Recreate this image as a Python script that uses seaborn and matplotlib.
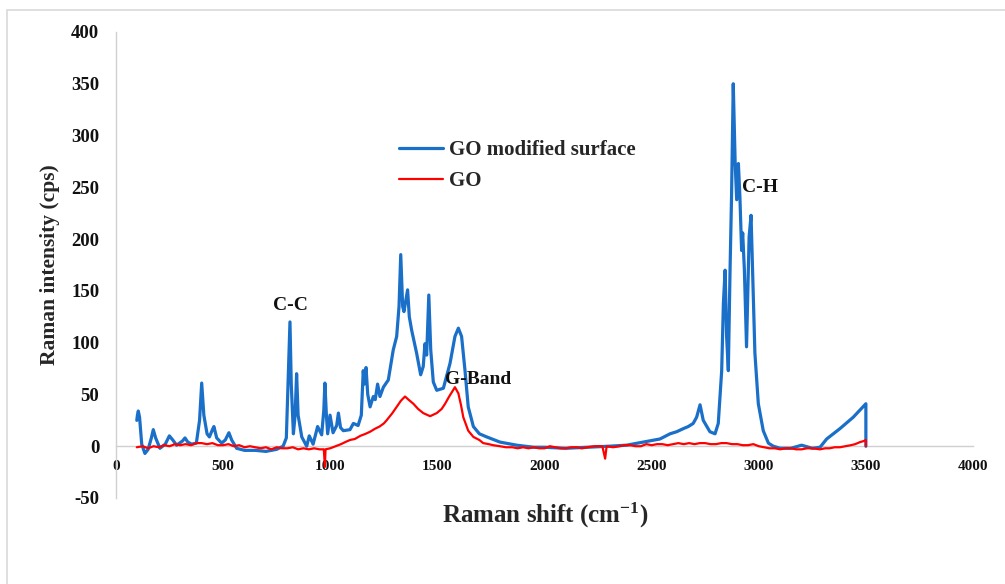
import matplotlib
matplotlib.use("Agg")
import matplotlib.pyplot as plt
import matplotlib.patches as mpatches
import seaborn as sns
import pandas as pd

# ---- data ----
go_mod_x = [97, 100, 104, 110, 120, 135, 150, 165, 174, 185, 205, 230, 249, 265, 283, 310, 322, 335, 353, 375,
            390, 400, 410, 425, 436, 450, 457, 470, 493, 510, 527, 540, 563, 600, 650, 700, 750, 780, 795, 803,
            812, 818, 828, 836, 843, 850, 867, 890, 902, 920, 941, 960, 970, 975, 982, 988, 999, 1013, 1030, 1038,
            1048, 1061, 1092, 1108, 1130, 1145, 1154, 1159, 1167, 1175, 1186, 1201, 1210, 1221, 1232, 1248, 1271,
            1294, 1310, 1321, 1329, 1338, 1344, 1361, 1369, 1380, 1403, 1422, 1434, 1442, 1450, 1460, 1469, 1481,
            1497, 1528, 1559, 1582, 1598, 1613, 1629, 1644, 1668, 1696, 1730, 1792, 1870, 1950, 2000, 2100, 2200,
            2300, 2383, 2461, 2539, 2586, 2617, 2648, 2671, 2694, 2710, 2726, 2741, 2772, 2796, 2811, 2827, 2835,
            2843, 2850, 2858, 2866, 2873, 2881, 2890, 2897, 2905, 2912, 2920, 2925, 2933, 2943, 2955, 2964, 2971,
            2982, 2998, 3021, 3045, 3068, 3100, 3150, 3200, 3250, 3286, 3317, 3379, 3441, 3500, 3500]
go_mod_y = [25, 30, 34, 28, 2, -7, -3, 8, 16, 8, -2, 2, 10, 6, 1, 5, 8, 4, 2, 3,
            25, 61, 30, 12, 9, 16, 19, 8, 3, 6, 13, 6, -2, -4, -4, -5, -3, 0, 8, 60,
            120, 60, 12, 30, 70, 30, 9, 0, 10, 2, 19, 11, 35, 61, 30, 12, 30, 13, 20, 32,
            18, 15, 16, 22, 20, 30, 73, 60, 76, 50, 38, 48, 45, 60, 48, 57, 64,
            93, 106, 135, 185, 135, 130, 151, 125, 112, 90, 69, 77, 99, 88, 146, 93, 62,
            54, 56, 80, 106, 114, 106, 73, 38, 19, 12, 9, 4, 1, -1, -1, -2, -1,
            0, 1, 4, 7, 12, 14, 17, 19, 22, 28, 40, 25, 14, 12, 22, 73, 138,
            170, 106, 73, 170, 241, 350, 273, 238, 273, 241, 189, 206, 170, 96, 202, 223, 170,
            90, 41, 15, 3, 0, -2, -2, 1, -2, -1, 7, 17, 28, 41, 0]

go_x = [97, 125, 150, 175, 200, 225, 250, 275, 300, 325, 350, 375, 400, 425, 450, 475, 500, 525, 550, 575,
        600, 625, 650, 675, 700, 725, 750, 775, 800, 825, 850, 875, 900, 925, 950, 970, 975,
        978, 1000, 1025, 1050, 1070, 1092, 1115, 1140, 1165, 1186, 1210, 1230, 1250, 1263, 1290, 1310, 1330,
        1349, 1365, 1388, 1410, 1434, 1466,
        1497, 1520, 1536, 1555, 1567, 1582, 1598, 1610, 1621, 1644, 1668, 1696, 1714, 1740, 1760, 1792, 1820,
        1850, 1875, 1900, 1925,
        1950, 1975, 2000, 2025, 2050, 2075, 2100, 2125, 2150, 2175, 2200, 2235, 2270, 2283, 2290, 2320, 2350,
        2375, 2400, 2425, 2450, 2475, 2500, 2525, 2550, 2575, 2600, 2625, 2650, 2675, 2700,
        2725, 2750, 2775, 2800, 2825, 2850, 2875, 2900, 2925, 2950, 2975, 3000, 3025, 3050, 3075, 3100, 3125,
        3150, 3175, 3200, 3225, 3250, 3286, 3310, 3330, 3355, 3379, 3405, 3430, 3450, 3473, 3490, 3500, 3500]
go_y = [-1, 0, -2, 0, -1, 1, 0, 2, 1, 2, 1, 3, 3, 2, 3, 1, 1, 2, 0, 1,
        -1, 0, -1, -2, -1, -3, -1, -2, -2, -1, -3, -2, -3, -2, -3, -3, -20,
        -3, -2, 0, 2, 4, 6, 7, 10, 12, 14, 17, 19, 22, 25, 32, 38, 44,
        48, 45, 41, 36, 32, 29,
        32, 36, 41, 48, 52, 57, 51, 40, 28, 15, 9, 6, 3, 2, 1, 0, -1,
        -1, -2, -1, -2,
        -1, -2, -2, 0, -1, -2, -2, -1, -1, -2, -1, 0, 0, -12, 0, -1, 0,
        1, 1, 0, 0, 2, 1, 2, 2, 1, 2, 3, 2, 3, 2,
        3, 3, 2, 2, 3, 3, 2, 2, 1, 1, 2, 0, -1, -2, -2, -3, -2,
        -2, -3, -3, -2, -2, -3, -2, -2, -1, -1, 0, 1, 2, 4, 5, 6, 0]

series_names = ["GO modified surface", "GO"]
series_colors = ["#1a6fc9", "#ff0000"]
x_ticks = [0, 500, 1000, 1500, 2000, 2500, 3000, 3500, 4000]
y_ticks = [-50, 0, 50, 100, 150, 200, 250, 300, 350, 400]
annotations = [("C-C", 812, 136), ("G-Band", 1690, 64), ("C-H", 3006, 250)]

sns.set_theme(style="white")
plt.rcParams['font.family'] = ['Liberation Serif', 'DejaVu Serif']
plt.rcParams['font.weight'] = 'bold'
plt.rcParams['mathtext.fontset'] = 'custom'
plt.rcParams['mathtext.rm'] = 'Liberation Serif:bold'
plt.rcParams['mathtext.bf'] = 'Liberation Serif:bold'
plt.rcParams['mathtext.it'] = 'Liberation Serif:bold'

fig = plt.figure(figsize=(10.05, 5.84), dpi=100)
ax = fig.add_axes([116/1005, 1 - 498/584, (973 - 116)/1005, (498 - 32)/584])

df_mod = pd.DataFrame({"x": go_mod_x, "y": go_mod_y})
df_go = pd.DataFrame({"x": go_x, "y": go_y})

sns.lineplot(data=df_mod, x="x", y="y", ax=ax, color=series_colors[0], linewidth=2.3,
             estimator=None, sort=False, label=series_names[0])
sns.lineplot(data=df_go, x="x", y="y", ax=ax, color=series_colors[1], linewidth=1.6,
             estimator=None, sort=False, label=series_names[1])
for line in ax.get_lines():
    line.set_clip_on(False)

ax.set_xlim(0, 4000)
ax.set_ylim(-50, 400)
ax.set_xticks(x_ticks)
ax.set_yticks(y_ticks)
ax.set_xticklabels([str(v) for v in x_ticks], fontsize=14, fontweight='bold')
ax.set_yticklabels([str(v) for v in y_ticks], fontsize=13.5, fontweight='bold')
ax.tick_params(axis='x', length=0, pad=10, colors='#111111')
ax.tick_params(axis='y', length=0, pad=12, colors='#111111')

for s in ['top', 'right']:
    ax.spines[s].set_visible(False)
ax.spines['left'].set_color('#d0d0d0')
ax.spines['left'].set_linewidth(1.0)
ax.spines['bottom'].set_position(('data', 0))
ax.spines['bottom'].set_color('#d0d0d0')
ax.spines['bottom'].set_linewidth(1.0)
ax.spines['bottom'].set_zorder(0)
ax.grid(False)

ax.set_xlabel("Raman shift (cm$^{-1}$)", fontsize=18, fontweight='bold')
ax.set_ylabel("Raman intensity (cps)", fontsize=15.5, fontweight='bold')
ax.xaxis.set_label_coords((545 - 116) / (973 - 116), -(515 - 498) / (498 - 32))
ax.xaxis.label.set_va('center')
ax.yaxis.set_label_coords((50 - 116) / (973 - 116), (498 - 265) / (498 - 32))
ax.yaxis.label.set_va('center')

for txt, xv, yv in annotations:
    ax.text(xv, yv, txt, fontsize=14, fontweight='bold', ha='center', va='center', color='#111111')

leg = ax.legend(loc='upper left', bbox_to_anchor=(399/1005, 1 - 140/584), bbox_transform=fig.transFigure,
                frameon=False, fontsize=15, handlelength=2.1, handletextpad=0.3, labelspacing=0.55,
                borderpad=0, borderaxespad=0)
for t in leg.get_texts():
    t.set_fontweight('bold')
for h in leg.get_lines():
    h.set_linewidth(2.3 if h.get_color() == series_colors[0] else 1.6)

frame = mpatches.Rectangle((7/1005, -0.05), 1.0, (1 - 10/584) + 0.05, transform=fig.transFigure,
                           fill=False, edgecolor='#d9d9d9', linewidth=1.2)
fig.patches.append(frame)

fig.savefig("out.png", dpi=100)
